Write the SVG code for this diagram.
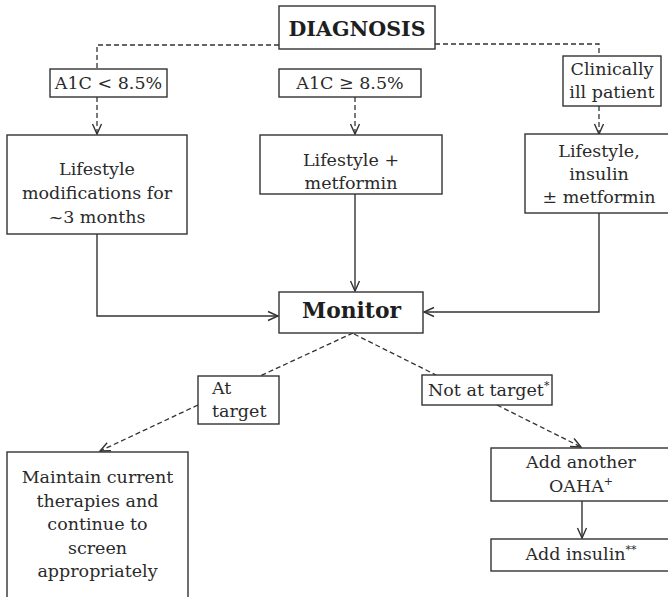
<svg xmlns="http://www.w3.org/2000/svg" width="668" height="597" viewBox="0 0 668 597">
<style>
  .box { fill: #ffffff; stroke: #333333; stroke-width: 1.4; }
  .t { font-family: 'DejaVu Serif', serif; font-size: 17.5px; fill: #2a2a2a; text-anchor: middle; }
  .tl { text-anchor: start; }
  .b { font-family: 'DejaVu Serif', serif; font-weight: bold; fill: #1e1e1e; text-anchor: middle; }
  .solid { fill: none; stroke: #333333; stroke-width: 1.4; }
  .dash { fill: none; stroke: #333333; stroke-width: 1.3; stroke-dasharray: 5 3; }
  .sup { font-size: 11px; }
</style>
<defs>
  <marker id="arr" markerUnits="userSpaceOnUse" markerWidth="14" markerHeight="12" viewBox="-11 -6 13 12" refX="0" refY="0" orient="auto">
    <path d="M-10,-4.5 L0,0 L-10,4.5" fill="none" stroke="#333333" stroke-width="1.4" stroke-dasharray="none"/>
  </marker>
</defs>

<g id="connectors">
  <path class="dash" d="M279,45 H97 V69"/>
  <path class="dash" d="M97,97 V134" marker-end="url(#arr)"/>
  <path class="dash" d="M355,97 V134" marker-end="url(#arr)"/>
  <path class="dash" d="M435,44 H599 V56"/>
  <path class="dash" d="M599,106 V134" marker-end="url(#arr)"/>
  <path class="solid" d="M97,234 V316 H278" marker-end="url(#arr)"/>
  <path class="solid" d="M355,194 V291" marker-end="url(#arr)"/>
  <path class="solid" d="M599,213 V312 H424" marker-end="url(#arr)"/>
  <path class="dash" d="M353,333 L260,376"/>
  <path class="dash" d="M198,405 L100,451" marker-end="url(#arr)"/>
  <path class="dash" d="M354,334 L436,375"/>
  <path class="dash" d="M497,405 L581,447" marker-end="url(#arr)"/>
  <path class="solid" d="M582,501 V538" marker-end="url(#arr)"/>
</g>

<g id="diagnosis">
  <rect class="box" x="279" y="6" width="156" height="43"/>
  <text class="b" x="357" y="36" font-size="21" textLength="137" lengthAdjust="spacingAndGlyphs">DIAGNOSIS</text>
</g>

<g id="a1c-low">
  <rect class="box" x="50" y="69" width="117" height="28"/>
  <text class="t" x="108.5" y="89">A1C &lt; 8.5%</text>
</g>

<g id="a1c-high">
  <rect class="box" x="279" y="69" width="142" height="28"/>
  <text class="t" x="350" y="89">A1C ≥ 8.5%</text>
</g>

<g id="clinically-ill">
  <rect class="box" x="563" y="56" width="98" height="50"/>
  <text class="t" x="612" y="75">Clinically</text>
  <text class="t" x="612" y="98">ill patient</text>
</g>

<g id="lifestyle-mod">
  <rect class="box" x="7" y="135" width="180" height="99"/>
  <text class="t" x="97" y="175">Lifestyle</text>
  <text class="t" x="97" y="199">modifications for</text>
  <text class="t" x="97" y="223">~3 months</text>
</g>

<g id="lifestyle-metformin">
  <rect class="box" x="260" y="135" width="182" height="59"/>
  <text class="t" x="351" y="166">Lifestyle +</text>
  <text class="t" x="351" y="189">metformin</text>
</g>

<g id="lifestyle-insulin">
  <rect class="box" x="525" y="134" width="148" height="79"/>
  <text class="t" x="599" y="157">Lifestyle,</text>
  <text class="t" x="599" y="180">insulin</text>
  <text class="t" x="599" y="203">± metformin</text>
</g>

<g id="monitor">
  <rect class="box" x="279" y="292" width="144" height="41"/>
  <text class="b" x="351.5" y="318" font-size="22" textLength="99" lengthAdjust="spacingAndGlyphs">Monitor</text>
</g>

<g id="at-target">
  <rect class="box" x="198" y="376" width="81" height="48"/>
  <text class="t tl" x="212" y="394">At</text>
  <text class="t tl" x="212" y="417">target</text>
</g>

<g id="not-at-target">
  <rect class="box" x="422" y="375" width="130" height="30"/>
  <text class="t tl" x="428" y="396">Not at target<tspan class="sup" dy="-7">*</tspan></text>
</g>

<g id="maintain">
  <rect class="box" x="7" y="452" width="181" height="150"/>
  <text class="t" x="97.5" y="483">Maintain current</text>
  <text class="t" x="97.5" y="507">therapies and</text>
  <text class="t" x="97.5" y="530">continue to</text>
  <text class="t" x="97.5" y="554">screen</text>
  <text class="t" x="97.5" y="577">appropriately</text>
</g>

<g id="add-oaha">
  <rect class="box" x="491" y="448" width="180" height="53"/>
  <text class="t" x="581" y="468">Add another</text>
  <text class="t" x="581" y="492">OAHA<tspan class="sup" dy="-7">+</tspan></text>
</g>

<g id="add-insulin">
  <rect class="box" x="491" y="539" width="180" height="32"/>
  <text class="t" x="581" y="560">Add insulin<tspan class="sup" dy="-7">**</tspan></text>
</g>
</svg>
